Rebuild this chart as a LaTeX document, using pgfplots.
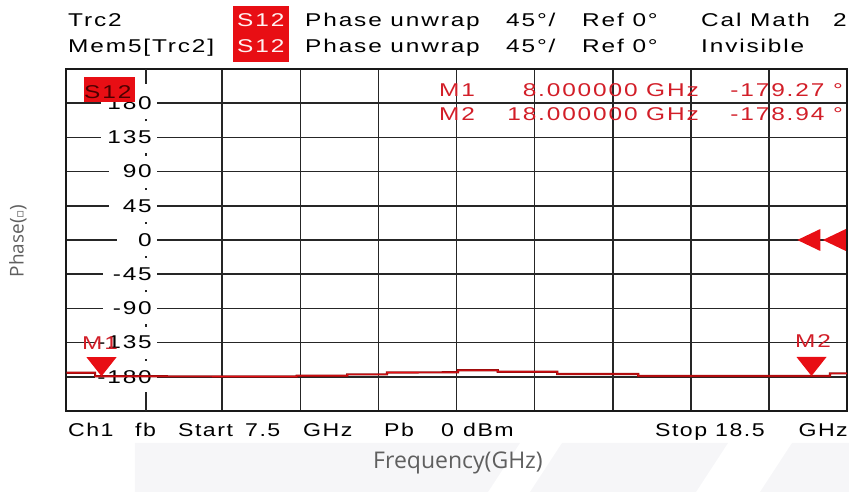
\documentclass[border=0pt]{standalone}
\usepackage{pgfplots}
\pgfplotsset{compat=1.18}
\usepackage{fontspec}
\setmainfont{Liberation Sans}
\newfontfamily\vna[FakeStretch=1.32,LetterSpace=10]{Liberation Sans}
\newfontfamily\vnb[FakeStretch=1.25,LetterSpace=8]{Liberation Sans}
\newfontfamily\osans{Open Sans}
\newfontfamily\dejavu{DejaVu Sans}
\definecolor{vred}{RGB}{232,14,20}
\definecolor{mred}{RGB}{210,30,40}
\definecolor{tdark}{RGB}{150,12,12}
\definecolor{wm}{RGB}{246,246,248}
\definecolor{lab}{RGB}{95,95,95}
\newcommand{\vf}{\vna\fontsize{18.5bp}{20bp}\selectfont}
\newcommand{\vg}{\vnb\fontsize{18.5bp}{20bp}\selectfont}
\pgfdeclareplotmark{vtri}{\pgfpathmoveto{\pgfpoint{0bp}{0bp}}\pgfpathlineto{\pgfpoint{-15bp}{19bp}}\pgfpathlineto{\pgfpoint{15bp}{19bp}}\pgfpathclose\pgfusepathqfill}
\pgfdeclareplotmark{ltri}{\pgfpathmoveto{\pgfpoint{0bp}{0bp}}\pgfpathlineto{\pgfpoint{23bp}{11bp}}\pgfpathlineto{\pgfpoint{23bp}{-11bp}}\pgfpathclose\pgfusepathqfill}
\begin{document}
\begin{tikzpicture}[x=1bp,y=1bp]
\begin{scope}[shift={(-66bp,411bp)}, y=-1bp]
\fill[wm] (135,443) -- (520,443) -- (488,492) -- (135,492) -- cycle;
\fill[wm] (562,443) -- (728,443) -- (696,492) -- (530,492) -- cycle;
\fill[wm] (792,443) -- (849,443) -- (849,492) -- (760,492) -- cycle;
\end{scope}
\begin{axis}[at={(0,0)}, anchor=south west, scale only axis,
  width=781bp, height=342bp,
  xmin=7.5, xmax=18.5, ymin=-225, ymax=225,
  xtick={9.7,10.8,11.9,13,14.1,15.2,16.3,17.4},
  ytick={-180,-135,-90,-45,0,45,90,135,180},
  xticklabels={}, yticklabels={}, major tick length=0pt,
  grid=major, major grid style={line width=1.6bp, color=black!85},
  axis line style={line width=1.8bp, black!90},
  clip=false]
% y tick labels (in the second column, as on the VNA screen)
\node[anchor=east, fill=white, inner sep=0pt] at (axis cs:8.782,180) {\vf\makebox[56bp][r]{180\hspace{5bp}}};
\node[anchor=east, fill=white, inner sep=0pt] at (axis cs:8.782,135) {\vf\makebox[56bp][r]{135\hspace{5bp}}};
\node[anchor=east, fill=white, inner sep=0pt] at (axis cs:8.782,90) {\vf\makebox[48bp][r]{90\hspace{5bp}}};
\node[anchor=east, fill=white, inner sep=0pt] at (axis cs:8.782,45) {\vf\makebox[48bp][r]{45\hspace{5bp}}};
\node[anchor=east, fill=white, inner sep=0pt] at (axis cs:8.782,0) {\vf\makebox[40bp][r]{0\hspace{5bp}}};
\node[anchor=east, fill=white, inner sep=0pt] at (axis cs:8.782,-45) {\vf\makebox[54bp][r]{-45\hspace{5bp}}};
\node[anchor=east, fill=white, inner sep=0pt] at (axis cs:8.782,-90) {\vf\makebox[54bp][r]{-90\hspace{5bp}}};
\node[anchor=east, fill=white, inner sep=0pt] at (axis cs:8.782,-135) {\vf\makebox[62bp][r]{-135\hspace{5bp}}};
\node[anchor=east, fill=white, inner sep=0pt] at (axis cs:8.782,-180) {\vf\makebox[62bp][r]{-180\hspace{5bp}}};
% scale ticks on the second column
\draw[line width=1.6bp, black!85] (axis cs:8.63,225) -- (axis cs:8.63,205);
\draw[line width=1.6bp, black!85] (axis cs:8.63,-225) -- (axis cs:8.63,-200);
\draw[line width=1.8bp, black!85] (axis cs:8.63,156) -- (axis cs:8.63,159);
\draw[line width=1.8bp, black!85] (axis cs:8.63,111) -- (axis cs:8.63,114);
\draw[line width=1.8bp, black!85] (axis cs:8.63,66) -- (axis cs:8.63,69);
\draw[line width=1.8bp, black!85] (axis cs:8.63,21) -- (axis cs:8.63,24);
\draw[line width=1.8bp, black!85] (axis cs:8.63,-24) -- (axis cs:8.63,-21);
\draw[line width=1.8bp, black!85] (axis cs:8.63,-69) -- (axis cs:8.63,-66);
\draw[line width=1.8bp, black!85] (axis cs:8.63,-114) -- (axis cs:8.63,-111);
\draw[line width=1.8bp, black!85] (axis cs:8.63,-159) -- (axis cs:8.63,-156);
% trace
\addplot[tdark, line width=2.2bp] coordinates {(7.51,-174.6) (7.91,-174.6) (7.91,-179.3) (10.75,-179.6) (10.75,-178.7) (11.46,-178.7) (11.46,-176.8) (12.02,-176.8) (12.02,-174.3) (13.02,-174.1) (13.02,-171.5) (13.58,-171.5) (13.58,-173.4) (14.42,-173.4) (14.42,-176.3) (15.56,-176.3) (15.56,-178.9) (18.26,-178.9) (18.26,-175.5) (18.5,-175.5)};
\addplot[vred, line width=0.7bp] coordinates {(7.51,-174.6) (7.91,-174.6) (7.91,-179.3) (10.75,-179.6) (10.75,-178.7) (11.46,-178.7) (11.46,-176.8) (12.02,-176.8) (12.02,-174.3) (13.02,-174.1) (13.02,-171.5) (13.58,-171.5) (13.58,-173.4) (14.42,-173.4) (14.42,-176.3) (15.56,-176.3) (15.56,-178.9) (18.26,-178.9) (18.26,-175.5) (18.5,-175.5)};
% markers
\addplot[only marks, mark=vtri, vred] coordinates {(8,-179.27) (18,-178.94)};
\addplot[only marks, mark=ltri, vred] coordinates {(17.8,0) (18.16,0)};
\end{axis}
\begin{scope}[shift={(-66bp,411bp)}, y=-1bp]
% header
\fill[vred] (233,6) rectangle (289,62);
\node[anchor=base west, inner sep=0pt] at (68,27) {\vf Trc2};
\node[anchor=base west, inner sep=0pt] at (68,53) {\vf Mem5[Trc2]};
\node[anchor=base west, inner sep=0pt, text=white!95!red] at (237,27) {\vf S12};
\node[anchor=base west, inner sep=0pt, text=white!95!red] at (237,53) {\vf S12};
\node[anchor=base west, inner sep=0pt] at (305,27) {\vf Phase unwrap};
\node[anchor=base west, inner sep=0pt] at (305,53) {\vf Phase unwrap};
\node[anchor=base west, inner sep=0pt] at (506,27) {\vf 45°/};
\node[anchor=base west, inner sep=0pt] at (506,53) {\vf 45°/};
\node[anchor=base west, inner sep=0pt] at (582,27) {\vf Ref 0°};
\node[anchor=base west, inner sep=0pt] at (582,53) {\vf Ref 0°};
\node[anchor=base west, inner sep=0pt] at (701,27) {\vf Cal Math};
\node[anchor=base east, inner sep=0pt] at (847,27) {\vf 2};
\node[anchor=base west, inner sep=0pt] at (701,53) {\vf Invisible};
% S12 box in the diagram
\fill[vred] (84,77) rectangle (135,102);
\node[anchor=base west, inner sep=0pt, text=black!70!red] at (84,99) {\vf S12};
% marker readouts
\node[anchor=base west, inner sep=0pt, text=mred] at (439,97) {\vf M1};
\node[anchor=base east, inner sep=0pt, text=mred] at (699,97) {\vf 8.000000 GHz};
\node[anchor=base east, inner sep=0pt, text=mred] at (843,97) {\vf -179.27 °};
\node[anchor=base west, inner sep=0pt, text=mred] at (439,121) {\vf M2};
\node[anchor=base east, inner sep=0pt, text=mred] at (699,121) {\vf 18.000000 GHz};
\node[anchor=base east, inner sep=0pt, text=mred] at (843,121) {\vf -178.94 °};
% marker labels
\node[anchor=base, inner sep=0pt, text=mred] at (100,350) {\vf M1};
\node[anchor=base, inner sep=0pt, text=mred] at (813,348) {\vf M2};
% footer
\node[anchor=base west, inner sep=0pt] at (68,437) {\vg Ch1};
\node[anchor=base west, inner sep=0pt] at (135,437) {\vg fb};
\node[anchor=base west, inner sep=0pt] at (178,437) {\vg Start};
\node[anchor=base west, inner sep=0pt] at (245,437) {\vg 7.5};
\node[anchor=base west, inner sep=0pt] at (303,437) {\vg GHz};
\node[anchor=base west, inner sep=0pt] at (384,437) {\vg Pb};
\node[anchor=base west, inner sep=0pt] at (441,437) {\vg 0};
\node[anchor=base west, inner sep=0pt] at (463,437) {\vg dBm};
\node[anchor=base west, inner sep=0pt] at (655,437) {\vg Stop};
\node[anchor=base west, inner sep=0pt] at (715,437) {\vg 18.5};
\node[anchor=base east, inner sep=0pt] at (848,437) {\vg GHz};
% axis titles
\node[text=lab, inner sep=0pt] at (458,463) {\osans\fontsize{23bp}{26bp}\selectfont Frequency(GHz)};
\node[text=lab, inner sep=0pt, rotate=90] at (18,241) {\osans\fontsize{19bp}{22bp}\selectfont Phase({\dejavu\fontsize{12bp}{14bp}\selectfont ▫})};
\end{scope}
\pgfresetboundingbox
\useasboundingbox (-66bp,-81bp) rectangle (783bp,411bp);
\end{tikzpicture}
\end{document}
